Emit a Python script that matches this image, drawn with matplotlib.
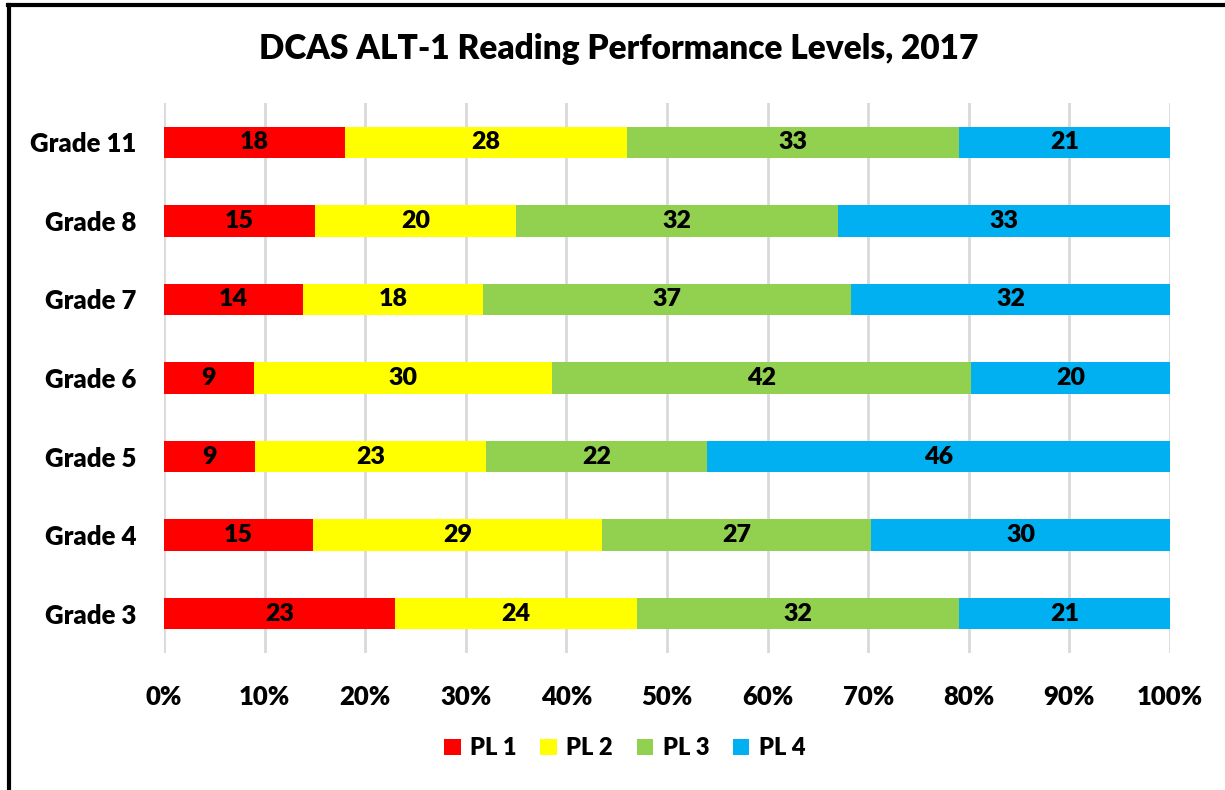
import numpy as np
import matplotlib
matplotlib.use('Agg')
import matplotlib.pyplot as plt
from matplotlib.lines import Line2D
from matplotlib.ticker import FuncFormatter

matplotlib.rcParams['font.family'] = ['Lato', 'DejaVu Sans']
W = 'heavy'
matplotlib.rcParams['font.weight'] = W

grades = ['Grade 3', 'Grade 4', 'Grade 5', 'Grade 6', 'Grade 7', 'Grade 8', 'Grade 11']
pl1 = [23, 15, 9, 9, 14, 15, 18]
pl2 = [24, 29, 23, 30, 18, 20, 28]
pl3 = [32, 27, 22, 42, 37, 32, 33]
pl4 = [21, 30, 46, 20, 32, 33, 21]
levels = ['PL 1', 'PL 2', 'PL 3', 'PL 4']
colors = ['#ff0000', '#ffff00', '#92d050', '#00b0f0']

data = np.array([pl1, pl2, pl3, pl4], dtype=float)
share = data / data.sum(axis=0) * 100

fig = plt.figure(figsize=(12.25, 7.9), dpi=100)
ax = fig.add_axes([0.1339, 0.1734, 0.8212, 0.6962])

y = np.arange(len(grades))
left = np.zeros(len(grades))
for i in range(4):
    bars = ax.barh(y, share[i], left=left, height=0.4, color=colors[i],
                   label=levels[i], zorder=3)
    for j, b in enumerate(bars):
        ax.text(left[j] + share[i][j] / 2, y[j], str(int(data[i][j])),
                ha='center', va='center', fontsize=18, fontweight=W,
                color='black', zorder=4)
    left += share[i]

ax.set_xlim(0, 100)
ax.set_ylim(-0.5, len(grades) - 0.5)
ax.set_xticks(np.arange(0, 101, 10))
ax.xaxis.set_major_formatter(FuncFormatter(lambda v, p: '%d%%' % v))
ax.set_yticks(y)
ax.set_yticklabels(grades)
ax.tick_params(axis='both', length=0, labelsize=18.5)
ax.tick_params(axis='x', pad=23)
ax.tick_params(axis='y', pad=20)
for lab in ax.get_xticklabels() + ax.get_yticklabels():
    lab.set_fontweight(W)
for s in ax.spines.values():
    s.set_visible(False)
ax.grid(axis='x', color='#d9d9d9', linewidth=2, zorder=0)

fig.text(0.505, 0.938, 'DCAS ALT-1 Reading Performance Levels, 2017',
         ha='center', va='center', fontsize=24, fontweight=W)

leg = ax.legend(loc='center', bbox_to_anchor=(0.51, 0.053), bbox_transform=fig.transFigure,
                ncol=4, frameon=False, handlelength=0.7, handleheight=0.7,
                handletextpad=0.4, columnspacing=1.0, prop={'weight': W, 'size': 17})

# border lines on top and left
fig.add_artist(Line2D([0.0065, 1.0], [0.9935, 0.9935], color='black', linewidth=3))
fig.add_artist(Line2D([0.0075, 0.0075], [0.0, 0.994], color='black', linewidth=3))

fig.savefig('out.png', dpi=100)
